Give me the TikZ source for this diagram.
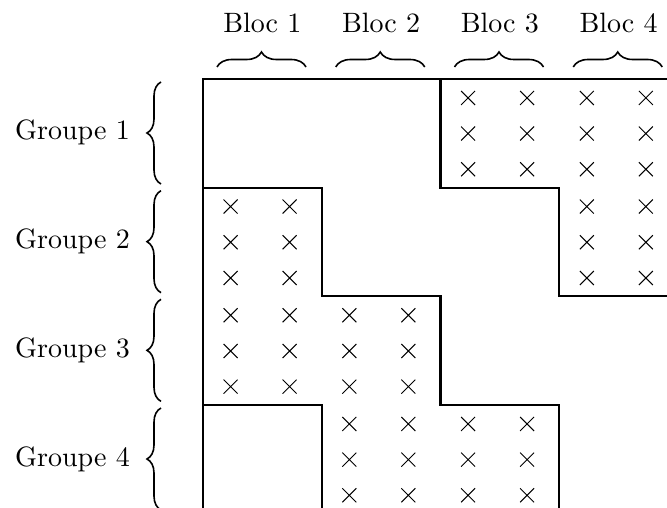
\documentclass[tikz,border=0pt]{standalone}
\usetikzlibrary{decorations.pathreplacing,shapes.misc}
% labels use the 10pt design of the roman face, enlarged to 28pt
\newcommand{\biglabel}[1]{\scalebox{2.8}{\fontsize{10}{12}\selectfont #1}}
\tikzset{
  frame/.style={line width=2.2pt, line join=miter},
  curly/.style={line width=1.6pt, decorate, decoration={brace, amplitude=#1}},
  lbl/.style={inner sep=0pt},
  crossmark/.style={cross out, draw, line width=1pt, inner sep=0pt, minimum size=13pt},
}
\begin{document}
\begin{tikzpicture}[x=1pt, y=-1pt]
\useasboundingbox (0,0) rectangle (667,508);
\clip (0,0) rectangle (667,508);

% grid corners: column blocks along x, row groups along y
\foreach \i in {0,...,4}
  \foreach \j in {0,...,4}
    \coordinate (p\i\j) at ({203+118.75*\i},{79+108.67*\j});

% block boundaries
\draw[frame] (p04) -- (p00) -- (p40);
\draw[frame] (p20) |- (p31) |- (p42);
\draw[frame] (p01) -| (p12) -| (p23) -| (p34);
\draw[frame] (p03) -| (p14);

% non-zero entries
\foreach \g/\b in {0/2,0/3,1/0,1/3,2/0,2/1,3/1,3/2}
  \foreach \c in {0,1}
    \foreach \r in {0,1,2}
      \node[crossmark] (x-\g-\b-\c-\r) at ({203+118.75*\b+27.6+59*\c},{79+108.67*\g+18.9+35.7*\r}) {};

% column blocks: labels and braces
\foreach \b in {1,...,4} {
  \node[lbl, anchor=base] (bloc-\b) at ({203+118.75*(\b-1)+59.4},33) {\biglabel{Bloc \b}};
  \coordinate (bl-\b) at ({203+118.75*(\b-1)+14},67);
  \coordinate (br-\b) at ({203+118.75*(\b-1)+103},67);
  \draw[curly=15pt] (bl-\b) -- (br-\b);
}

% row groups: labels and braces
\foreach \g in {1,...,4} {
  \node[lbl, anchor=base east] (grp-\g) at (130,{79+108.67*(\g-1)+61}) {\biglabel{Groupe \g}};
  \coordinate (gb-\g) at (161,{79+108.67*(\g-1)+105});
  \coordinate (gt-\g) at (161,{79+108.67*(\g-1)+3});
  \draw[curly=14pt] (gb-\g) -- (gt-\g);
}
\end{tikzpicture}
\end{document}
